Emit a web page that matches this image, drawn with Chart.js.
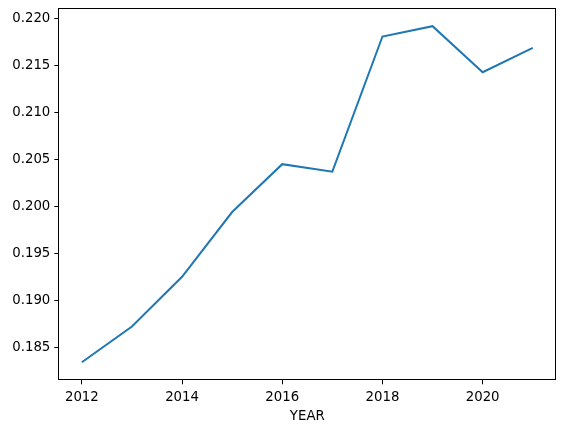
<!DOCTYPE html>
<html>
<head>
<meta charset="utf-8">
<script src="https://cdn.jsdelivr.net/npm/chart.js@4/dist/chart.umd.min.js"></script>
<style>
  html, body { margin: 0; padding: 0; background: #fff; }
  #wrap { width: 565px; height: 432px; }
</style>
</head>
<body>
<div id="wrap"><canvas id="myChart" width="565" height="432"></canvas></div>
<script>
// values
const years = [2012, 2013, 2014, 2015, 2016, 2017, 2018, 2019, 2020, 2021];
const values = [0.1834, 0.1872, 0.1925, 0.1994, 0.2045, 0.2037, 0.2181, 0.2192, 0.2143, 0.2169];
const xTicks = [2012, 2014, 2016, 2018, 2020];
const yTicks = [0.185, 0.190, 0.195, 0.200, 0.205, 0.210, 0.215, 0.220];

const fontFamily = '"DejaVu Sans", sans-serif';
const fontSize = 13.3;

// draws the full black frame around the plot area
const framePlugin = {
    id: 'frame',
    afterDraw(chart) {
        const a = chart.chartArea;
        const ctx = chart.ctx;
        ctx.save();
        ctx.strokeStyle = '#000';
        ctx.lineWidth = 1;
        ctx.strokeRect(Math.round(a.left) - 0.5, Math.round(a.top) - 0.5,
            Math.round(a.right - a.left) + 1, Math.round(a.bottom - a.top) + 1);
        ctx.restore();
    }
};

const ctx = document.getElementById('myChart').getContext('2d');
new Chart(ctx, {
    type: 'line',
    data: {
        datasets: [{
            data: years.map((y, i) => ({ x: y, y: values[i] })),
            borderColor: '#1f77b4',
            borderWidth: 2,
            pointRadius: 0,
            tension: 0,
            fill: false
        }]
    },
    options: {
        responsive: false,
        animation: false,
        layout: { padding: { top: 9.3, right: 9.7, left: 0, bottom: 0 } },
        plugins: {
            legend: { display: false },
            tooltip: { enabled: false }
        },
        scales: {
            x: {
                type: 'linear',
                min: 2011.55,
                max: 2021.45,
                afterBuildTicks: s => { s.ticks = xTicks.map(v => ({ value: v })); },
                afterFit: s => {
                    s.height = 52.7;
                    s.paddingLeft = 0;
                    s.paddingRight = 0;
                },
                ticks: {
                    color: '#000',
                    font: { family: fontFamily, size: fontSize },
                    padding: 5,
                    maxRotation: 0,
                    callback: v => String(v)
                },
                grid: {
                    drawOnChartArea: false,
                    drawTicks: true,
                    tickLength: 5,
                    tickColor: '#000'
                },
                border: { display: false },
                title: {
                    display: true,
                    text: 'YEAR',
                    color: '#000',
                    font: { family: fontFamily, size: fontSize },
                    padding: { top: 0, bottom: 7 }
                }
            },
            y: {
                type: 'linear',
                min: 0.18158,
                max: 0.22100,
                afterBuildTicks: s => { s.ticks = yTicks.map(v => ({ value: v })); },
                afterFit: s => {
                    s.width = 59.3;
                    s.paddingTop = 0;
                    s.paddingBottom = 0;
                },
                ticks: {
                    color: '#000',
                    font: { family: fontFamily, size: fontSize },
                    padding: 4,
                    callback: v => Number(v).toFixed(3)
                },
                grid: {
                    drawOnChartArea: false,
                    drawTicks: true,
                    tickLength: 5,
                    tickColor: '#000'
                },
                border: { display: false }
            }
        }
    },
    plugins: [framePlugin]
});
</script>
</body>
</html>
